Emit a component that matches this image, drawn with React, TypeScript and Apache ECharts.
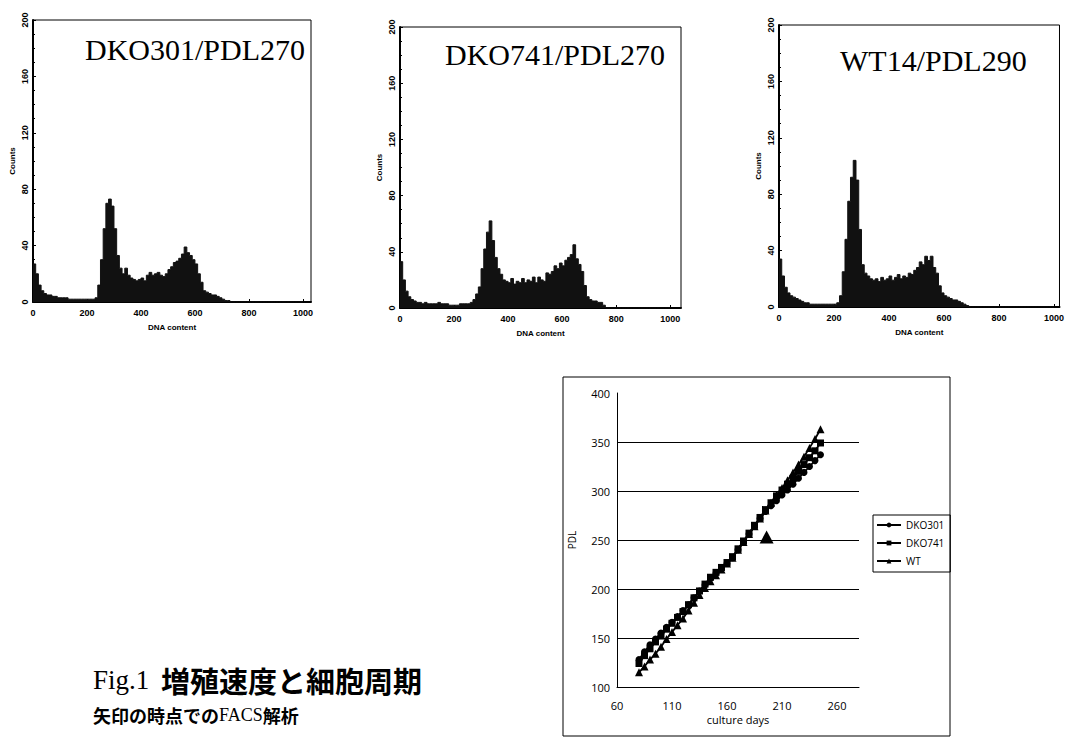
import React, { useEffect, useRef } from "react";
import * as echarts from "echarts";

// ---------- FACS histograms (DNA content, bin start every 10) ----------
const dnaBins = [
  0, 10, 20, 30, 40, 50, 60, 70, 80, 90,
  100, 110, 120, 130, 140, 150, 160, 170, 180, 190,
  200, 210, 220, 230, 240, 250, 260, 270, 280, 290,
  300, 310, 320, 330, 340, 350, 360, 370, 380, 390,
  400, 410, 420, 430, 440, 450, 460, 470, 480, 490,
  500, 510, 520, 530, 540, 550, 560, 570, 580, 590,
  600, 610, 620, 630, 640, 650, 660, 670, 680, 690,
  700, 710, 720, 730, 740, 750, 760, 770, 780, 790,
  800, 810, 820, 830, 840, 850, 860, 870, 880, 890,
  900, 910, 920, 930, 940, 950, 960, 970, 980, 990, 1000,
];

const countsDKO301 = [
  27, 20, 12, 8, 6, 5, 5, 4, 4, 3,
  3, 3, 3, 2, 2, 2, 2, 2, 2, 2,
  2, 2, 2, 3, 12, 30, 52, 70, 73, 68,
  52, 33, 24, 20, 24, 19, 17, 16, 15, 16,
  17, 15, 19, 21, 19, 20, 21, 19, 18, 20,
  23, 25, 28, 29, 31, 34, 39, 35, 33, 30,
  27, 20, 14, 8, 7, 6, 5, 5, 4, 3,
  2, 1, 1, 0, 0, 0, 0, 0, 0, 0,
  0, 0, 0, 0, 0, 0, 0, 0, 0, 0,
  0, 0, 0, 0, 0, 0, 0, 0, 0, 0, 0,
];

const countsDKO741 = [
  33, 20, 12, 8, 6, 5, 4, 4, 3, 4,
  3, 3, 3, 3, 4, 3, 3, 3, 2, 2,
  2, 2, 3, 3, 3, 3, 4, 6, 10, 15,
  28, 42, 54, 62, 48, 36, 28, 24, 20, 19,
  18, 21, 17, 19, 18, 21, 18, 20, 19, 22,
  18, 22, 20, 19, 25, 24, 26, 30, 28, 32,
  30, 34, 36, 38, 45, 35, 31, 26, 16, 8,
  6, 5, 5, 4, 4, 2, 0, 0, 0, 0,
  0, 0, 0, 0, 0, 0, 0, 0, 0, 0,
  0, 0, 0, 0, 0, 0, 0, 0, 0, 0, 0,
];

const countsWT14 = [
  34, 22, 14, 10, 8, 7, 6, 5, 4, 3,
  3, 2, 2, 2, 2, 2, 2, 2, 2, 2,
  2, 3, 8, 25, 48, 75, 92, 104, 90, 55,
  30, 24, 22, 20, 19, 20, 18, 21, 19, 20,
  22, 19, 21, 23, 20, 22, 21, 24, 23, 26,
  28, 32, 30, 36, 33, 36, 28, 24, 15, 10,
  8, 7, 6, 5, 5, 4, 3, 2, 1, 0,
  0, 0, 0, 0, 0, 0, 0, 0, 0, 0,
  0, 0, 0, 0, 0, 0, 0, 0, 0, 0,
  0, 0, 0, 0, 0, 0, 0, 0, 0, 0, 0,
];

const histTitles = ["DKO301/PDL270", "DKO741/PDL270", "WT14/PDL290"];
const histXMax = [1030, 1040, 1020];

// ---------- Growth curve (PDL vs culture days) ----------
const cultureDays = [
  80, 85, 90, 95, 100, 105, 110, 115, 120, 125,
  130, 135, 140, 145, 150, 155, 160, 165, 170, 175,
  180, 185, 190, 195, 200, 205, 210, 215, 220, 225,
  230, 235, 240, 245,
];
const pdlDKO301 = [
  128, 136, 143, 149, 155, 161, 166, 172, 178, 184,
  191, 198, 204, 211, 216, 221, 226, 232, 240, 248,
  256, 264, 272, 279, 285, 290, 296, 301, 307, 313,
  319, 325, 331, 337,
];
const pdlDKO741 = [
  124, 132, 139, 146, 152, 159, 165, 171, 177, 184,
  191, 198, 205, 212, 217, 222, 227, 233, 241, 249,
  257, 265, 273, 281, 288, 295, 301, 307, 313, 320,
  327, 334, 341, 349,
];
const pdlWT = [
  115, 121, 128, 134, 141, 149, 156, 163, 170, 178,
  186, 194, 201, 208, 214, 220, 226, 232, 240, 248,
  256, 264, 272, 280, 288, 296, 303, 311, 319, 327,
  335, 344, 353, 363,
];
const seriesNames = ["DKO301", "DKO741", "WT"];
const arrowDay = 196;
const arrowPDL = 253;

const captionLine1 = "増殖速度と細胞周期";
const captionLine2 = "矢印の時点での";
const captionLine2b = "解析";

export default function App() {
  const ref = useRef<HTMLDivElement>(null);

  useEffect(() => {
    if (!ref.current) return;
    const chart = echarts.init(ref.current, undefined, { renderer: "svg" });

    const histGrids = [
      { left: 33, top: 20, width: 278, height: 282 },
      { left: 400, top: 27, width: 281, height: 281 },
      { left: 779, top: 25, width: 284, height: 282 },
    ];
    const histData = [countsDKO301, countsDKO741, countsWT14];
    const labelFont = { fontFamily: "Liberation Sans", fontWeight: "bold" as const, color: "#000" };
    const plain = (v: number) => String(v);

    const grids: any[] = histGrids.map((g) => ({
      ...g,
      show: true,
      borderColor: "#000",
      borderWidth: 1,
      backgroundColor: "transparent",
    }));
    grids.push({ left: 617, top: 393, width: 242, height: 294 });

    const xAxes: any[] = histGrids.map((_, i) => ({
      gridIndex: i,
      type: "value",
      min: 0,
      max: histXMax[i],
      interval: 200,
      axisLine: { show: true, lineStyle: { color: "#000", width: 2 } },
      axisTick: { show: true, inside: true, length: 3, lineStyle: { color: "#000" } },
      axisLabel: { ...labelFont, fontSize: 9, margin: 6, showMaxLabel: false, formatter: plain },
      splitLine: { show: false },
      name: "DNA content",
      nameLocation: "middle",
      nameGap: 21,
      nameTextStyle: { ...labelFont, fontSize: 8 },
    }));
    xAxes.push({
      gridIndex: 3,
      type: "value",
      min: 60,
      max: 280,
      interval: 50,
      axisLine: { show: true, lineStyle: { color: "#000", width: 1 } },
      axisTick: { show: false },
      axisLabel: { fontFamily: "Open Sans", fontSize: 11, color: "#000", margin: 13, showMaxLabel: false, formatter: plain },
      splitLine: { show: false },
      name: "culture days",
      nameLocation: "middle",
      nameGap: 27,
      nameTextStyle: { fontFamily: "Open Sans", fontSize: 11, color: "#000" },
    });

    const yAxes: any[] = histGrids.map((_, i) => ({
      gridIndex: i,
      type: "value",
      min: 0,
      max: 200,
      interval: 40,
      axisLine: { show: true, lineStyle: { color: "#000", width: 2 } },
      axisTick: { show: true, inside: true, length: 3, lineStyle: { color: "#000" } },
      minorTick: { show: true, splitNumber: 4, length: 2, lineStyle: { color: "#000" } },
      axisLabel: { ...labelFont, fontSize: 9, margin: 4, rotate: 90, formatter: plain },
      splitLine: { show: false },
      name: "Counts",
      nameLocation: "middle",
      nameGap: 17,
      nameTextStyle: { ...labelFont, fontSize: 8 },
    }));
    yAxes.push({
      gridIndex: 3,
      type: "value",
      min: 100,
      max: 400,
      interval: 50,
      axisLine: { show: true, lineStyle: { color: "#000", width: 1 } },
      axisTick: { show: false },
      axisLabel: { fontFamily: "Open Sans", fontSize: 11, color: "#000", margin: 7, formatter: plain },
      splitLine: { show: true, showMaxLine: false, lineStyle: { color: "#000", width: 1 } },
      name: "PDL",
      nameLocation: "middle",
      nameGap: 40,
      nameTextStyle: { fontFamily: "Open Sans", fontSize: 10, color: "#000" },
    });

    const series: any[] = histData.map((vals, i) => ({
      type: "line",
      xAxisIndex: i,
      yAxisIndex: i,
      step: "end",
      symbol: "none",
      silent: true,
      lineStyle: { color: "#111", width: 1 },
      areaStyle: { color: "#111", opacity: 1 },
      data: dnaBins.map((b, k) => [b, vals[k]]),
    }));

    const pdlSets = [pdlDKO301, pdlDKO741, pdlWT];
    const symbols = ["circle", "rect", "triangle"];
    pdlSets.forEach((vals, i) => {
      const s: any = {
        name: seriesNames[i],
        type: "line",
        xAxisIndex: 3,
        yAxisIndex: 3,
        symbol: symbols[i],
        symbolSize: i === 2 ? 8 : 7,
        color: "#000",
        itemStyle: { color: "#000" },
        lineStyle: { color: "#000", width: 1.8 },
        data: cultureDays.map((d, k) => [d, vals[k]]),
      };
      if (i === 2) {
        s.markPoint = {
          symbol: "triangle",
          symbolSize: [14, 13],
          itemStyle: { color: "#000" },
          label: { show: false },
          data: [{ coord: [arrowDay, arrowPDL] }],
        };
      }
      series.push(s);
    });

    const titleY = [50, 55, 61];
    const titleX = [85, 445, 840];

    chart.setOption({
      animation: false,
      backgroundColor: "#fff",
      grid: grids,
      xAxis: xAxes,
      yAxis: yAxes,
      series,
      legend: {
        data: seriesNames,
        orient: "vertical",
        left: 873,
        top: 515,
        itemWidth: 24,
        itemHeight: 6,
        itemGap: 8,
        padding: [5, 6, 6, 3],
        borderColor: "#000",
        borderWidth: 1,
        textStyle: { fontFamily: "Open Sans", fontSize: 10, color: "#000" },
      },
      graphic: [
        ...histTitles.map((t, i) => ({
          type: "text",
          left: titleX[i],
          top: titleY[i] - 16,
          style: { text: t, font: "30px 'Liberation Serif'", fill: "#000" },
        })),
        {
          type: "rect",
          shape: { x: 563, y: 377, width: 387, height: 359 },
          style: { fill: "none", stroke: "#000", lineWidth: 1 },
          silent: true,
        },
        {
          type: "text",
          left: 93,
          top: 665,
          style: {
            text: "{a|Fig.1 }{b|" + captionLine1 + "}",
            rich: {
              a: { fontFamily: "Liberation Serif", fontSize: 27, fill: "#000" },
              b: { fontFamily: "Noto Sans CJK JP", fontSize: 29, fontWeight: "bold", fill: "#000", padding: [0, 0, 0, 5] },
            },
          },
        },
        {
          type: "text",
          left: 93,
          top: 706,
          style: {
            text: "{b|" + captionLine2 + "}{a|FACS}{b|" + captionLine2b + "}",
            rich: {
              a: { fontFamily: "Liberation Serif", fontSize: 18, fill: "#000" },
              b: { fontFamily: "Noto Sans CJK JP", fontSize: 18, fontWeight: "bold", fill: "#000" },
            },
          },
        },
      ],
    });

    return () => chart.dispose();
  }, []);

  return (
    <div
      ref={ref}
      style={{ position: "absolute", left: 0, top: 0, width: 1067, height: 747, background: "#fff" }}
    />
  );
}
